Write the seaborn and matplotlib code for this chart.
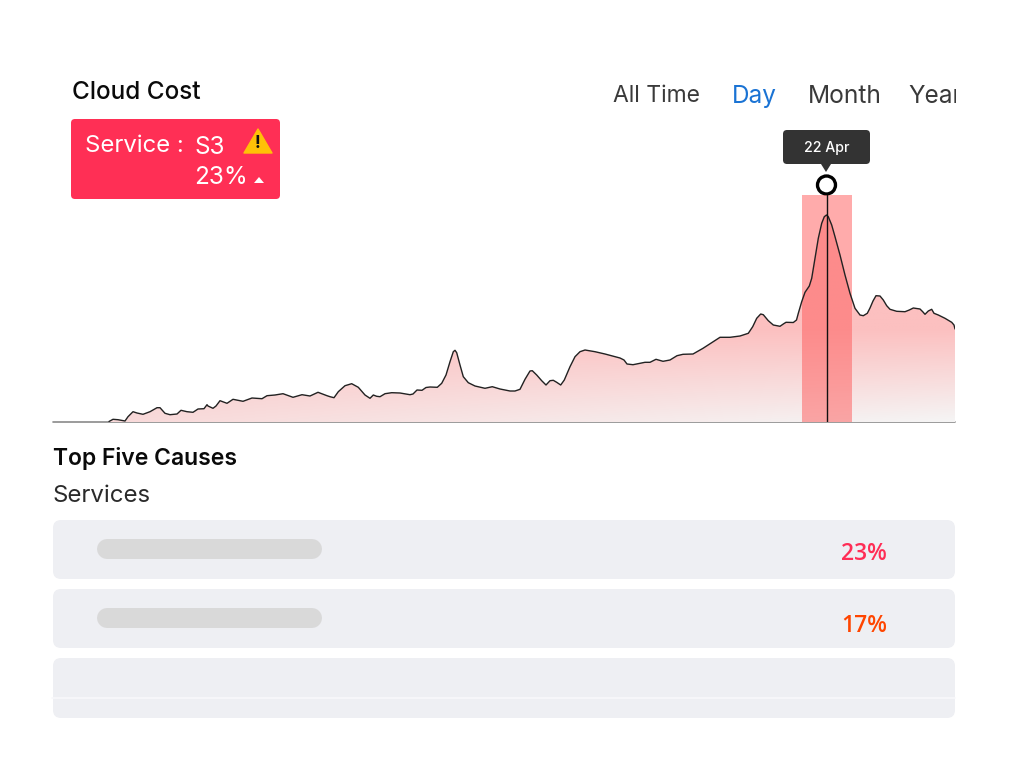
import numpy as np
import pandas as pd
import matplotlib
matplotlib.use('Agg')
import matplotlib.pyplot as plt
import seaborn as sns
from matplotlib.patches import FancyBboxPatch, Polygon, Rectangle, Circle

# Chart values, stretch by stretch
day_a = [56, 60, 65, 72, 75, 80, 84, 90, 97, 104, 107, 112, 117, 124, 128, 134, 140, 145, 151,
         154, 155, 160, 163, 167, 174, 180, 190, 199, 209, 214, 222, 230, 240, 249, 257, 265, 274]
cost_a = [0.5, 2.7, 2.3, 1, 5.3, 10.3, 9, 7.7, 10.3, 14.3, 14.3, 8.7, 7.3, 8, 11.7, 10.3, 9.7, 13, 13.3,
          17.3, 16, 13.7, 16, 21.3, 18.7, 22.7, 20.7, 24, 23.3, 26.3, 27, 28.3, 24.7, 27.3, 26, 29.7, 26.3]
day_b = [277, 281, 285.3, 292, 298.7, 305.3, 312, 317, 320.3, 323.7, 327, 332, 338.7, 347, 357, 360, 364, 369, 373]
cost_b = [25.3, 24.3, 30.3, 36.3, 38.3, 34.7, 27, 23.7, 27, 25.7, 25.3, 28.3, 29.3, 29, 27.3, 28, 32, 31.7, 34.5]
day_c = [377, 384.3, 388.7, 393, 397, 400.3, 402, 403.7, 407, 410.3, 415.3, 422, 432, 439.3, 447, 457]
cost_c = [35, 34.7, 38.7, 47, 60.3, 70.3, 71.7, 69.3, 57, 45.3, 39.3, 36, 33.7, 35.3, 33, 31]
day_d = [462, 467, 472, 477, 479.3, 483.7, 488.7, 493, 497, 500.3, 503.7, 507.7, 511.3, 517, 522, 527, 532, 542, 552, 562]
cost_d = [31, 32.7, 42.7, 51, 51.3, 47, 41.3, 37, 41.3, 41.7, 39.7, 37, 42, 55.3, 65.3, 70.3, 72, 70.3, 68, 65.3]
day_e = [567, 571, 574, 580, 592, 597, 603, 610, 617, 624, 630, 640, 650, 667, 677, 687]
cost_e = [64, 62, 58, 57.3, 59.7, 59.7, 62.7, 60.7, 62, 66.3, 67.7, 68, 73.7, 84.7, 84.7, 86]
day_f = [695.3, 699.7, 703.7, 707.7, 710.3, 715.3, 720.3, 727, 730.3, 733, 740.3, 743.5]
cost_f = [88.7, 95.3, 103.7, 108, 107.3, 101.3, 97, 95.7, 98, 99.7, 99.5, 102]
day_g = [745.3, 748.7, 752, 756.3, 758.7, 762, 765.3, 768.7, 771.3, 773.5, 775.3, 778.7, 782, 787, 792, 797, 802, 807, 810.3, 814.3]
cost_g = [108.7, 120.3, 129.7, 136, 143.7, 163.7, 183.7, 198.7, 205.3, 207, 205.3, 197, 185.3, 167, 147, 128.7, 113.7, 107, 106.3, 108.7]
day_h = [817, 820, 823, 827, 830.3, 833.7, 837, 843.7, 852, 856.3, 860.3, 867, 869.7, 872, 875.3, 878.7, 881, 885.3, 892, 898.7, 901, 902]
cost_h = [114, 121, 126.3, 126, 122, 116.3, 112.7, 110.7, 110.3, 112, 114, 113, 110.3, 107.7, 111, 112.7, 108.7, 107, 103.7, 99.7, 97, 93]
peak_day = 773.5

title = 'Cloud Cost'
range_labels = ['All Time', 'Day', 'Month', 'Year']
range_x = [613, 732, 808, 908]
range_sizes = [16.5, 17.5, 17.7, 17.5]
range_colors = ['#3a3a3a', '#1a73d4', '#3a3a3a', '#3a3a3a']
causes = ['23%', '17%']
cause_colors = ['#ff2d55', '#ff4500']

sns.set_theme(style='white')
plt.rcParams['font.family'] = ['Inter', 'DejaVu Sans']

W, H = 1025, 783
fig = plt.figure(figsize=(W / 100, H / 100), dpi=100)

# UI layer in pixel coordinates
ui = fig.add_axes([0, 0, 1, 1], zorder=1)
ui.set_xlim(0, W)
ui.set_ylim(H, 0)
ui.axis('off')

# chart axes: 53..955 px wide, baseline at y=422
left, right, top, base = 53, 955, 195, 422
ax = fig.add_axes([left / W, 1 - base / H, (right - left) / W, (base - top) / H], zorder=2)
ax.patch.set_alpha(0)

df = pd.DataFrame({'day': day_a + day_b + day_c + day_d + day_e + day_f + day_g + day_h,
                   'cost': cost_a + cost_b + cost_c + cost_d + cost_e + cost_f + cost_g + cost_h})

# gradient fill under the curve
X, Y = np.meshgrid(np.linspace(0, 1, 300), np.linspace(0, 1, 300))
t = np.clip((Y * (base - top) - (base - top - 92)) / 92, 0, 1) * (0.45 + 0.55 * X)
pink = np.array([252, 192, 192]) / 255
grey = np.array([245, 245, 245]) / 255
img = pink + (grey - pink) * t[..., None]
im = ax.imshow(img, extent=[0, right - left, 0, base - top], origin='upper', aspect='auto', zorder=1)
poly = Polygon(np.vstack([[df['day'].iloc[0], 0], df[['day', 'cost']].values, [df['day'].iloc[-1], 0]]),
               transform=ax.transData, fc='none', ec='none')
ax.add_patch(poly)
im.set_clip_path(poly)

# highlighted band around the peak
ax.axvspan(peak_day - 24.5, peak_day + 25, color=(1, 85 / 255, 85 / 255), alpha=0.49, lw=0, zorder=2)
sns.lineplot(data=df, x='day', y='cost', ax=ax, color='#222222', linewidth=1.0, zorder=4,
             errorbar=None, estimator=None, sort=False)
ax.axvline(peak_day, color='#111111', lw=1.0, zorder=5)
ax.set_xlim(0, right - left)
ax.set_ylim(0, base - top)
ax.axis('off')

ui.plot([left, right], [base, base], color='#8a8a8a', lw=1.2, zorder=6)


def round_box(x0, y0, x1, y1, r, color, axes=ui, z=2):
    axes.add_patch(FancyBboxPatch((x0 + r, y0 + r), x1 - x0 - 2 * r, y1 - y0 - 2 * r,
                                  boxstyle=f'round,pad={r},rounding_size={r}',
                                  fc=color, ec='none', zorder=z))


# header
ui.text(72, 92.5, title, fontsize=17.5, fontweight='medium', color='#0a0a0a', va='center')
for label, x, s, c in zip(range_labels, range_x, range_sizes, range_colors):
    t_ = ui.text(x, 96.5, label, fontsize=s, color=c, va='center', clip_on=True)
    t_.set_clip_path(Rectangle((0, 0), right + 1, H, transform=ui.transData))

# red service card
round_box(71, 119, 280, 199, 4, '#ff2f55')
ui.text(85, 146, 'Service :', fontsize=17.2, color='white', va='center', zorder=3)
ui.text(195, 147, 'S3', fontsize=17.5, color='white', va='center', zorder=3)
ui.text(194, 177, '23%', fontsize=17.5, color='white', va='center', zorder=3)
ui.add_patch(Polygon([[254, 183], [264, 183], [259, 177]], fc='white', ec='none', zorder=3))
ui.add_patch(Polygon([[244, 153], [272, 153], [258, 129]], fc='#ffc107', ec='#ffc107', lw=1,
                     joinstyle='round', zorder=3))
ui.text(257.5, 143.5, '!', fontsize=12.5, fontweight='bold', color='#111111', ha='center',
        va='center', zorder=4)

# date tooltip and marker
round_box(783, 130, 870, 164, 4, '#333333')
ui.add_patch(Polygon([[821, 164], [831, 164], [826, 172]], fc='#333333', ec='none', zorder=2))
ui.text(827, 148, '22 Apr', fontsize=10.2, fontweight='medium', color='white', ha='center',
        va='center', zorder=3)
ui.add_patch(Circle((826.5, 185), 9, fc='white', ec='black', lw=2.4, zorder=7))

# lower list
ui.text(53, 458, 'Top Five Causes', fontsize=16.5, fontweight='semibold', color='#0a0a0a', va='center')
ui.text(53, 496, 'Services', fontsize=17.3, color='#2a2a2a', va='center')

row_tops = [520, 589]
for y0 in row_tops:
    round_box(53, y0, 955, y0 + 59, 8, '#eeeff3')
    # placeholder pill: a thick line with round ends, 20 px tall
    ui.plot([107, 312], [y0 + 29, y0 + 29], color='#d9d9d9', lw=14.4, solid_capstyle='round', zorder=3)
for y, pct, c in zip([554, 626], causes, cause_colors):
    ui.text(864, y, pct, fontsize=16.5, fontweight='semibold', color=c, ha='center', va='center',
            family=['Open Sans', 'DejaVu Sans'], zorder=3)
round_box(53, 658, 955, 718, 8, '#eeeff3')
ui.plot([52, 955], [698, 698], color='#f8f8fb', lw=1.2, zorder=3)

fig.savefig('out.png', dpi=100)
plt.close(fig)
